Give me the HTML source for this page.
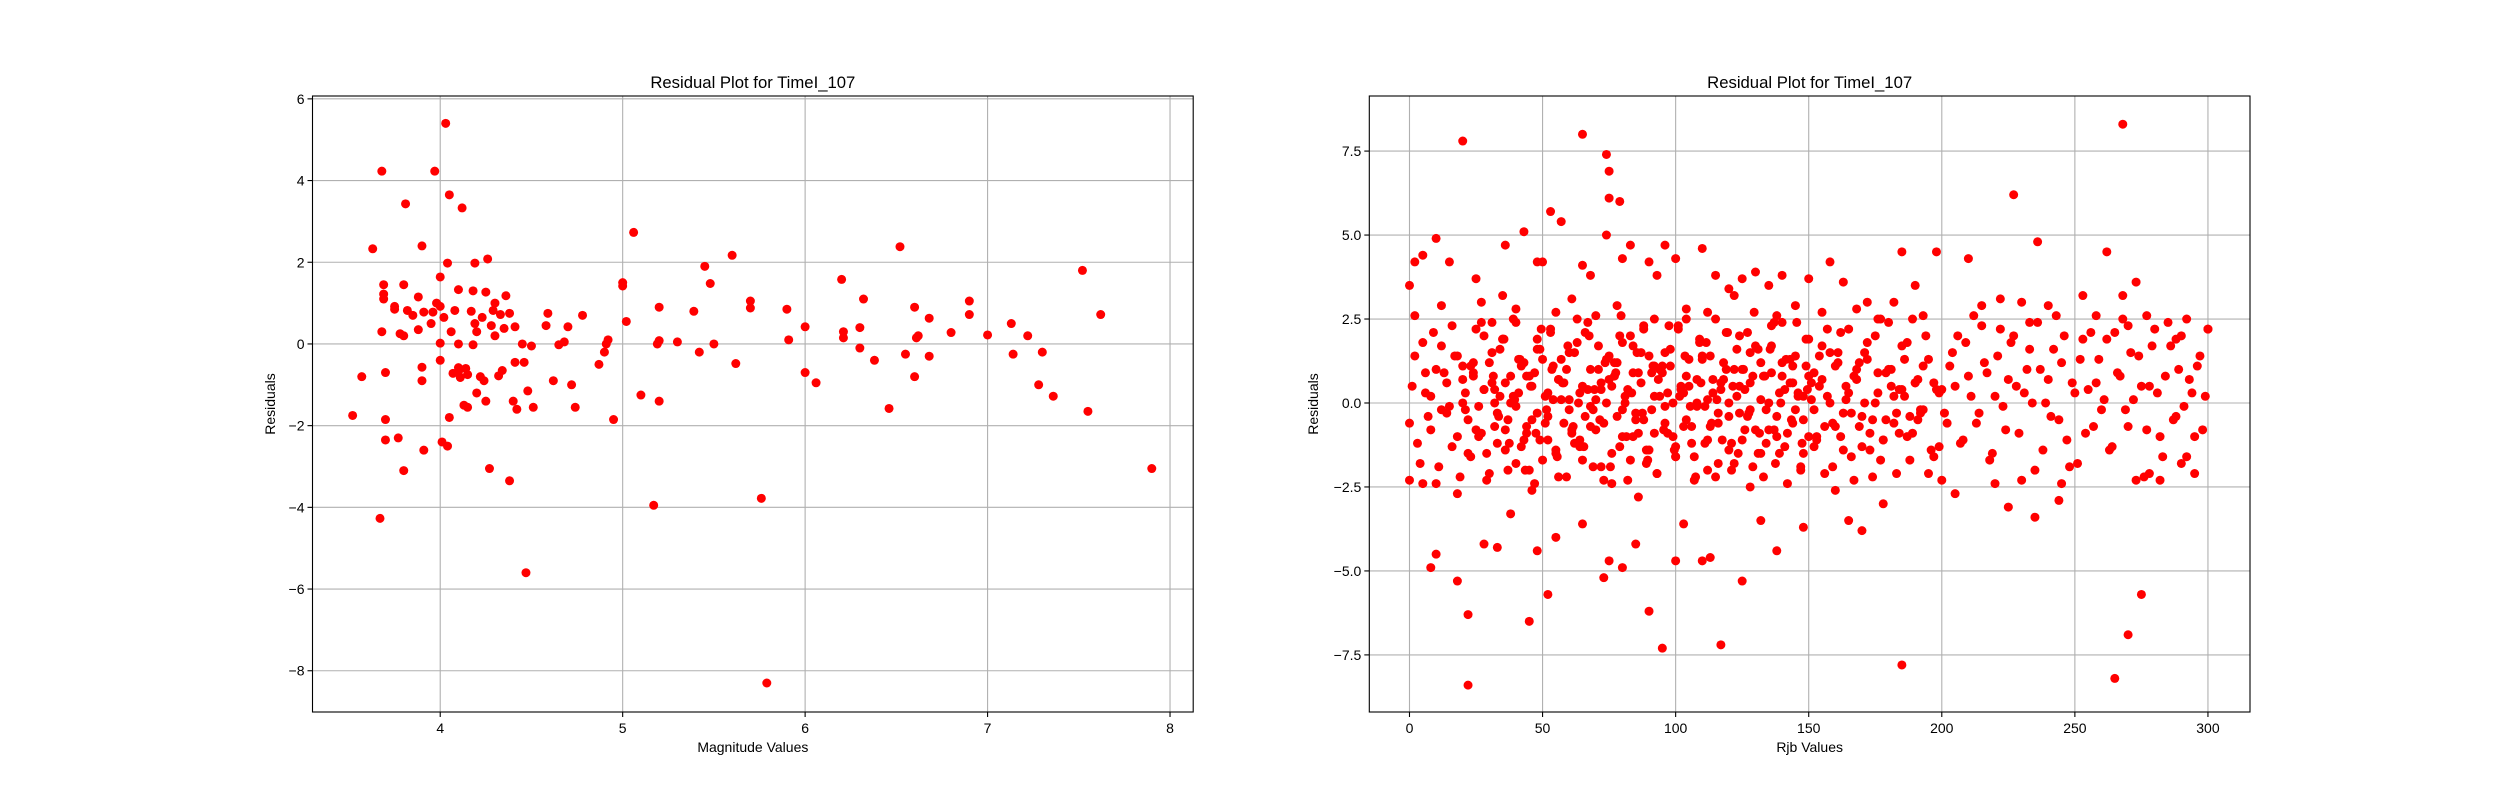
<!DOCTYPE html>
<html><head><meta charset="utf-8"><style>
html,body{margin:0;padding:0;background:#fff;}
svg{display:block;font-family:"Liberation Sans","DejaVu Sans",sans-serif;}
</style></head><body>
<svg id="fig" width="2500" height="800" viewBox="0 0 2500 800" xmlns="http://www.w3.org/2000/svg">
<rect x="0" y="0" width="2500" height="800" fill="#fff"/>
</svg>
<script>
// ---- Left chart data (Magnitude vs Residuals) ----
const magX = [3.52,3.57,3.63,3.67,3.68,3.68,3.69,3.69,3.69,3.7,3.7,3.7,3.75,3.75,3.77,3.78,3.8,3.8,3.8,3.81,3.82,3.85,3.88,3.88,3.9,3.9,3.9,3.91,3.91,3.95,3.96,3.97,3.98,4.0,4.0,4.0,4.0,4.01,4.02,4.03,4.04,4.04,4.05,4.05,4.06,4.07,4.08,4.1,4.1,4.1,4.1,4.11,4.12,4.13,4.14,4.15,4.15,4.17,4.18,4.18,4.19,4.19,4.2,4.2,4.22,4.23,4.24,4.25,4.25,4.26,4.27,4.28,4.29,4.3,4.3,4.32,4.33,4.34,4.35,4.36,4.38,4.38,4.4,4.41,4.41,4.42,4.45,4.46,4.47,4.48,4.5,4.51,4.58,4.59,4.62,4.65,4.68,4.7,4.72,4.74,4.78,4.87,4.9,4.91,4.92,4.95,5.0,5.0,5.02,5.06,5.1,5.17,5.19,5.2,5.2,5.2,5.3,5.39,5.42,5.45,5.48,5.5,5.6,5.62,5.7,5.7,5.76,5.79,5.9,5.91,6.0,6.06,6.0,6.2,6.21,6.21,6.3,6.3,6.32,6.38,6.46,6.52,6.55,6.61,6.6,6.62,6.6,6.68,6.68,6.8,6.9,6.9,7.0,7.13,7.14,7.22,7.28,7.3,7.36,7.52,7.55,7.62,7.9];
const magRes = [-1.75,-0.8,2.33,-4.27,4.23,0.3,1.45,1.22,1.1,-0.7,-1.85,-2.35,0.92,0.85,-2.3,0.25,1.45,0.2,-3.1,3.43,0.82,0.7,1.15,0.35,-0.57,-0.9,2.4,0.78,-2.6,0.5,0.78,4.23,1.0,0.92,0.02,-0.4,1.64,-2.4,0.65,5.4,-2.5,1.98,-1.8,3.65,0.3,-0.72,0.82,-0.58,-0.68,1.33,0.0,-0.82,3.33,-1.5,-0.6,-1.55,-0.75,0.8,-0.02,1.3,1.98,0.5,0.3,-1.2,-0.8,0.65,-0.9,-1.4,1.27,2.08,-3.05,0.45,0.82,0.2,1.0,-0.78,0.72,-0.65,0.38,1.18,-3.35,0.75,-1.4,0.42,-0.45,-1.6,0.0,-0.45,-5.6,-1.15,-0.05,-1.55,0.45,0.75,-0.9,-0.02,0.05,0.42,-1.0,-1.55,0.7,-0.5,-0.2,0.0,0.1,-1.85,1.5,1.42,0.55,2.73,-1.25,-3.95,0.0,0.08,-1.4,0.9,0.05,0.8,-0.2,1.9,1.48,0.0,2.17,-0.48,1.05,0.88,-3.78,-8.3,0.85,0.1,0.42,-0.95,-0.7,1.58,0.3,0.15,-0.1,0.4,1.1,-0.4,-1.58,2.38,-0.25,0.15,0.9,0.2,-0.8,0.63,-0.3,0.28,1.05,0.72,0.22,0.5,-0.25,0.2,-1.0,-0.2,-1.28,1.8,-1.65,0.72,-3.05];
const magTicksX = [4,5,6,7,8];
const magTickLabelsX = ["4","5","6","7","8"];
const magTicksY = [-8,-6,-4,-2,0,2,4,6];
const magTickLabelsY = ["\u22128","\u22126","\u22124","\u22122","0","2","4","6"];

// ---- Right chart data (Rjb vs Residuals) ----
const rjbA_X = [1,3,5,7,9,11,13,15,17,19,21,23,25,27,29,31,33,35,37,39,41,43,45,47,49,51,53,55,57,59,61,63,65,67,69,71,73,75,77,79,81,83,85,87,89,91,93,95,97,99,101,103,105,107,109,111,113,115,117,119,121,123,125,127,129,131,133,135,137,139,141,143,145,147,149,151,153,155,157,159,161,163,165,167,169,171,173,175,177,179,181,183,185,187,189,191,193,195,197,199];
const rjbA_Y = [0.5,-1.2,1.8,-0.4,2.1,-1.9,0.9,-0.1,1.4,-2.2,0.3,1.1,-0.8,2.4,-1.5,0.6,-0.3,1.9,-2.0,0.2,1.3,-1.1,0.8,-2.4,1.6,-0.6,2.2,-1.4,0.1,1.0,-0.9,2.5,-1.7,0.4,-0.2,1.7,-2.3,0.7,1.2,-1.3,0.0,2.0,-0.5,1.5,-1.8,0.9,-2.1,1.1,0.3,-1.0,2.3,-0.7,0.5,-1.6,1.8,-0.1,1.4,-2.2,0.6,2.1,-1.2,0.2,1.0,-0.4,-1.9,1.6,0.8,-0.8,2.4,-1.5,0.4,1.3,-0.2,-2.0,1.9,0.1,-1.1,0.7,2.2,-0.6,1.5,-1.4,0.3,-2.3,1.2,0.0,-0.9,2.0,-1.7,0.9,0.5,-0.3,1.7,-1.0,2.5,-0.5,1.1,-2.1,0.6,-1.3];
const rjbB_X = [0,2,4,6,8,10,12,14,16,18,20,22,24,26,28,30,32,34,36,38,40,42,44,46,48,50,52,54,56,58,60,62,64,66,68,70,72,74,76,78,80,82,84,86,88,90,92,94,96,98,100,102,104,106,108,110,112,114,116,118,120,122,124,126,128,130,132,134,136,138,140,142,144,146,148,150,152,154,156,158,160,162,164,166,168,170,172,174,176,178,180,182,184,186,188,190,192,194,196,198];
const rjbB_Y = [-0.6,1.4,-1.8,0.9,0.2,-2.4,1.7,-0.3,2.3,-1.0,0.7,-1.5,1.2,-0.1,2.0,-2.1,0.4,1.6,-0.8,0.0,2.4,-1.3,0.8,-0.5,1.9,-1.7,0.3,1.1,-2.2,0.6,-0.2,1.5,-1.1,2.1,-0.7,0.1,-1.9,1.3,0.5,-0.4,1.8,-2.3,0.9,-0.9,2.2,-1.4,0.2,1.0,-0.6,1.6,-1.6,0.4,2.5,-1.2,-0.1,1.4,-2.0,0.7,-0.3,1.2,0.0,-1.8,2.0,-0.8,0.6,1.7,-1.5,-0.2,2.3,-1.0,0.8,-2.4,1.1,0.3,-0.5,1.9,-1.3,0.5,-2.1,1.5,-0.7,2.1,0.1,-1.6,1.0,-0.4,1.8,-2.2,0.9,-1.1,2.4,0.2,-0.9,1.3,-1.7,0.6,-0.3,2.0,-1.4,0.4];
const rjbC_X = [20,21,23,24,25,27,28,29,31,32,33,35,36,37,39,40,41,43,44,45,47,48,49,51,52,53,55,56,57,59,60,61,63,64,65,67,68,69,71,72,73,75,76,77,79,80,81,83,84,85,87,88,89,91,92,93,95,96,97,99,100,101,103,104,105,107,108,109,111,112,113,115,116,117,119,120,121,123,124,125,127,128,129,131,132,133,135,136,137,139,140,141,143,144,145,147,148,149,150,152];
const rjbC_Y = [1.1,-0.2,-1.6,0.8,2.2,-0.9,0.4,-2.3,1.5,0.0,-1.2,1.9,0.6,-0.5,2.5,-1.8,0.3,1.2,-0.7,-2.0,0.9,1.6,-1.1,0.2,-0.4,2.1,-1.5,0.7,1.3,-2.2,0.1,-0.8,1.8,-1.3,0.5,2.4,-0.1,-1.9,1.0,0.4,-0.6,1.4,-2.4,0.8,2.0,-1.0,0.2,-1.7,1.7,-0.3,0.6,2.3,-1.4,-0.2,1.1,-2.1,0.9,1.5,-0.9,0.0,-1.6,2.2,0.3,-0.5,1.3,-2.3,0.7,1.9,-1.2,0.1,-0.7,2.5,-1.8,0.4,1.0,-0.4,-2.0,1.6,0.5,-1.1,2.1,-0.2,0.8,-1.5,1.2,-2.2,0.0,1.7,-0.8,0.3,2.4,-1.3,0.6,-0.6,1.4,-1.9,0.2,1.1,-1.0,0.9];
const rjbD_X = [200,202,204,206,208,210,212,214,216,218,220,222,224,226,228,230,232,234,236,238,240,242,244,246,248,250,252,254,256,258,260,262,264,266,268,270,272,274,276,278,280,282,284,286,288,290,292,294,296,298,300];
const rjbD_Y = [0.4,-0.6,1.5,2.0,-1.1,0.8,2.6,-0.3,1.2,-1.7,0.2,2.2,-0.8,1.8,0.5,-2.3,1.0,0.0,2.4,-1.4,0.7,1.6,-0.5,2.0,-1.9,0.3,1.3,-0.9,2.1,0.6,-0.2,1.9,-1.3,0.9,2.5,-0.7,0.1,1.4,-2.2,0.5,2.2,-1.0,0.8,1.7,-0.4,2.0,-1.6,0.3,1.1,-0.8,2.2];
const rjbE_X = [6,8,10,12,14,16,18,20,22,24,26,28,30,32,34,36,38,40,42,44,46,48,50,52,54,56,58,60,62,64,66,68,70,72,74,76,78,80,82,84,86,88,90,92,94,96,98,100,102,104,106,108,110,112,114,116,118,120,122,124,126,128,130,132,134,136,138,140,142,144,146,148,150,152,154,156,158,160,162,164,166,168,170,172,174,176,178,180,182,184,186,188,190,192];
const rjbE_Y = [0.3,-0.8,1.0,-0.2,0.6,-1.3,1.4,0.0,-0.5,0.9,-1.0,0.4,1.2,-0.7,0.2,-1.4,0.8,-0.1,1.1,-0.9,0.5,-0.3,1.3,-1.1,0.1,0.7,-0.6,1.5,-1.2,0.3,-0.4,1.0,-0.8,0.6,0.0,-1.5,1.2,-0.2,0.4,-1.0,0.9,-0.5,1.4,-0.9,0.2,-0.1,1.1,-1.3,0.5,0.8,-0.7,0.0,1.3,-1.1,0.3,-0.6,0.7,-1.4,1.0,-0.3,0.4,1.5,-0.8,0.1,-1.2,0.9,-0.4,1.2,-0.9,0.6,0.2,-1.5,0.8,-0.2,1.4,-0.7,0.0,1.1,-1.0,0.5,-0.3,0.7,-1.3,1.3,-0.5,0.3,-1.1,1.0,-0.6,0.4,0.2,-0.4,0.6,-0.2];
const rjbF_X = [31.5,33.5,35.5,37.5,39.5,41.5,43.5,45.5,47.5,49.5,51.5,53.5,55.5,57.5,59.5,61.5,63.5,65.5,67.5,69.5,71.5,73.5,75.5,77.5,79.5,81.5,83.5,85.5,87.5,89.5,91.5,93.5,95.5,97.5,99.5,101.5,103.5,105.5,107.5,109.5,111.5,113.5,115.5,117.5,119.5,121.5,123.5,125.5,127.5,129.5,131.5,133.5,135.5,137.5,139.5,141.5,143.5,145.5,147.5,149.5];
const rjbF_Y = [0.8,-0.4,1.9,-1.2,0.1,1.3,-2.0,0.5,-0.9,2.2,-0.2,1.0,-1.6,0.6,1.7,-0.7,0.0,-1.3,2.0,0.4,-0.5,1.2,-1.9,0.9,2.6,-1.0,0.3,1.5,-0.3,-1.7,1.1,0.7,-0.8,2.3,-1.4,0.2,1.4,-0.1,-2.2,0.6,1.8,-0.6,0.1,-1.1,2.1,0.5,-1.5,1.0,-0.3,2.7,-0.9,0.8,1.6,-1.8,0.0,1.3,-0.5,2.4,-1.2,0.4];
const rjbG_X = [201,203,205,207,209,211,213,215,217,219,221,223,225,227,229,231,233,235,237,239,241,243,245,247,249,251,253,255,257,259,261,263,265,267,269,271,273,275,277,279,281,283,285,287,289,291,293,295,297,299];
const rjbG_Y = [-0.3,1.1,0.5,-1.2,1.8,0.2,-0.6,2.3,0.9,-1.5,1.4,-0.1,0.7,2.0,-0.9,0.3,1.6,-2.0,1.0,0.0,-0.4,2.6,1.2,-1.1,0.6,-1.8,1.9,0.4,-0.7,1.3,0.1,-1.4,2.1,0.8,-0.2,1.5,-2.3,0.5,-0.8,1.7,0.3,-1.6,2.4,-0.5,1.0,-0.1,0.7,-1.0,1.4,0.2];
const rjbH_X = [151,153,155,157,159,161,163,165,167,169,171,173,175,177,179,181,183,185,187,189,191,193,195,197,199];
const rjbH_Y = [0.6,-1.0,1.7,0.2,-1.9,1.2,-0.3,2.2,0.8,-0.7,1.5,-1.4,0.0,2.5,-0.5,1.0,-2.1,0.4,1.8,-0.9,0.7,-0.2,1.3,-1.6,0.3];
const rjbI_X = [2,12,18,27,31,40,46,55,61,70,78,86,92,104,112,122,128,138,145,155,160,168,176,182,193,205,215,222,233,245,258,270,282,292];
const rjbI_Y = [2.6,2.9,-2.7,3.0,2.4,2.8,-2.6,2.7,3.1,2.6,2.9,-2.8,2.5,2.8,2.7,3.2,-2.5,2.6,2.9,2.7,-2.6,2.8,2.5,3.0,2.6,-2.7,2.9,3.1,2.4,-2.4,2.6,2.3,-2.3,2.5];
const rjbHigh_X = [20,65,74,75,75,79,268,227,0,2,5,10,15,25,35,36,43,48,50,53,57,65,68,74,80,83,90,93,96,100,110,115,120,125,130,135,140,150,158,163,172,185,190,198,210,230,236,240,253,262,268,273,277,288,300];
const rjbHigh_Y = [7.8,8.0,7.4,6.9,6.1,6.0,8.3,6.2,3.5,4.2,4.4,4.9,4.2,3.7,3.2,4.7,5.1,4.2,4.2,5.7,5.4,4.1,3.8,5.0,4.3,4.7,4.2,3.8,4.7,4.3,4.6,3.8,3.4,3.7,3.9,3.5,3.8,3.7,4.2,3.6,3.0,4.5,3.5,4.5,4.3,3.0,4.8,2.9,3.2,4.5,3.2,3.6,2.6,1.9,2.2];
const rjbLow_X = [0,5,8,10,18,22,22,28,33,38,45,48,52,55,65,73,75,80,85,90,95,100,103,110,113,117,125,132,138,148,165,170,178,185,200,220,225,235,244,265,270,275,278,290,295];
const rjbLow_Y = [-2.3,-2.4,-4.9,-4.5,-5.3,-6.3,-8.4,-4.2,-4.3,-3.3,-6.5,-4.4,-5.7,-4.0,-3.6,-5.2,-4.7,-4.9,-4.2,-6.2,-7.3,-4.7,-3.6,-4.7,-4.6,-7.2,-5.3,-3.5,-4.4,-3.7,-3.5,-3.8,-3.0,-7.8,-2.3,-2.4,-3.1,-3.4,-2.9,-8.2,-6.9,-5.7,-2.1,-1.8,-2.1];
const rjbTicksX = [0,50,100,150,200,250,300];
const rjbTickLabelsX = ["0","50","100","150","200","250","300"];
const rjbTicksY = [-7.5,-5,-2.5,0,2.5,5,7.5];
const rjbTickLabelsY = ["\u22127.5","\u22125.0","\u22122.5","0.0","2.5","5.0","7.5"];

const NS = "http://www.w3.org/2000/svg";
const svg = document.getElementById('fig');
function mk(tag, attrs, parent){const e=document.createElementNS(NS,tag);for(const k in attrs)e.setAttribute(k,attrs[k]);(parent||svg).appendChild(e);return e;}

function drawPanel(cfg){
  const g = mk('g',{});
  
  
  const L=cfg.left,R=cfg.right,T=96,B=712;
  const sx=v=>L+(v-cfg.xmin)/(cfg.xmax-cfg.xmin)*(R-L);
  const sy=v=>B-(v-cfg.ymin)/(cfg.ymax-cfg.ymin)*(B-T);
  cfg.ticksX.forEach((t,i)=>{
    const gl=mk('line',{x1:sx(t),x2:sx(t),y1:T,y2:B,stroke:'#b0b0b0','stroke-width':1.1},g);
    
    
  });
  cfg.ticksY.forEach((t,i)=>{
    const gl=mk('line',{x1:L,x2:R,y1:sy(t),y2:sy(t),stroke:'#b0b0b0','stroke-width':1.1},g);
    
    
  });
  const pts=mk('g',{fill:'#ff0000'},g);
  
  
  cfg.series.forEach(s=>{
    s[0].forEach((x,i)=>{
      const c=mk('circle',{cx:sx(x),cy:sy(s[1][i]),r:4.5},pts);
      
      
    });
  });
  const fr=mk('rect',{x:L,y:T,width:R-L,height:B-T,fill:'none',stroke:'#000','stroke-width':1.1},g);
  
  
  cfg.ticksX.forEach((t,i)=>{
    mk('line',{x1:sx(t),x2:sx(t),y1:B,y2:B+5,stroke:'#000','stroke-width':1.1},g);
    const tx=mk('text',{x:sx(t),y:B+21,'font-size':14,'text-anchor':'middle',fill:'#000'},g);
    tx.textContent=cfg.labelsX[i];
    
    
  });
  cfg.ticksY.forEach((t,i)=>{
    mk('line',{x1:L-5,x2:L,y1:sy(t),y2:sy(t),stroke:'#000','stroke-width':1.1},g);
    const ty=mk('text',{x:L-8,y:sy(t)+5,'font-size':14,'text-anchor':'end',fill:'#000'},g);
    ty.textContent=cfg.labelsY[i];
    
    
  });
  const ti=mk('text',{x:(L+R)/2,y:88,'font-size':16.7,'text-anchor':'middle',fill:'#000'},g);
  ti.textContent=cfg.title;
  
  
  const xl=mk('text',{x:(L+R)/2,y:752,'font-size':14,'text-anchor':'middle',fill:'#000'},g);
  xl.textContent=cfg.xlabel;
  
  
  const yx=cfg.ylabX, yy=(T+B)/2;
  const yl=mk('text',{x:yx,y:yy,'font-size':14,'text-anchor':'middle',fill:'#000',transform:`rotate(-90 ${yx} ${yy})`},g);
  yl.textContent='Residuals';
  
  
}

drawPanel({name:'magnitude-residual-chart',left:312.5,right:1193.2,xmin:3.30,xmax:8.127,ymin:-9.01,ymax:6.07,
  ticksX:magTicksX,labelsX:magTickLabelsX,ticksY:magTicksY,labelsY:magTickLabelsY,
  series:[[magX,magRes]],title:'Residual Plot for TimeI_107',xlabel:'Magnitude Values',ylabX:275});
drawPanel({name:'rjb-residual-chart',left:1369.3,right:2250,xmin:-15.1,xmax:315.8,ymin:-9.2,ymax:9.14,
  ticksX:rjbTicksX,labelsX:rjbTickLabelsX,ticksY:rjbTicksY,labelsY:rjbTickLabelsY,
  series:[[rjbA_X,rjbA_Y],[rjbB_X,rjbB_Y],[rjbC_X,rjbC_Y],[rjbD_X,rjbD_Y],[rjbE_X,rjbE_Y],[rjbF_X,rjbF_Y],[rjbG_X,rjbG_Y],[rjbH_X,rjbH_Y],[rjbI_X,rjbI_Y],[rjbHigh_X,rjbHigh_Y],[rjbLow_X,rjbLow_Y]],
  title:'Residual Plot for TimeI_107',xlabel:'Rjb Values',ylabX:1318});
</script>
</body></html>
